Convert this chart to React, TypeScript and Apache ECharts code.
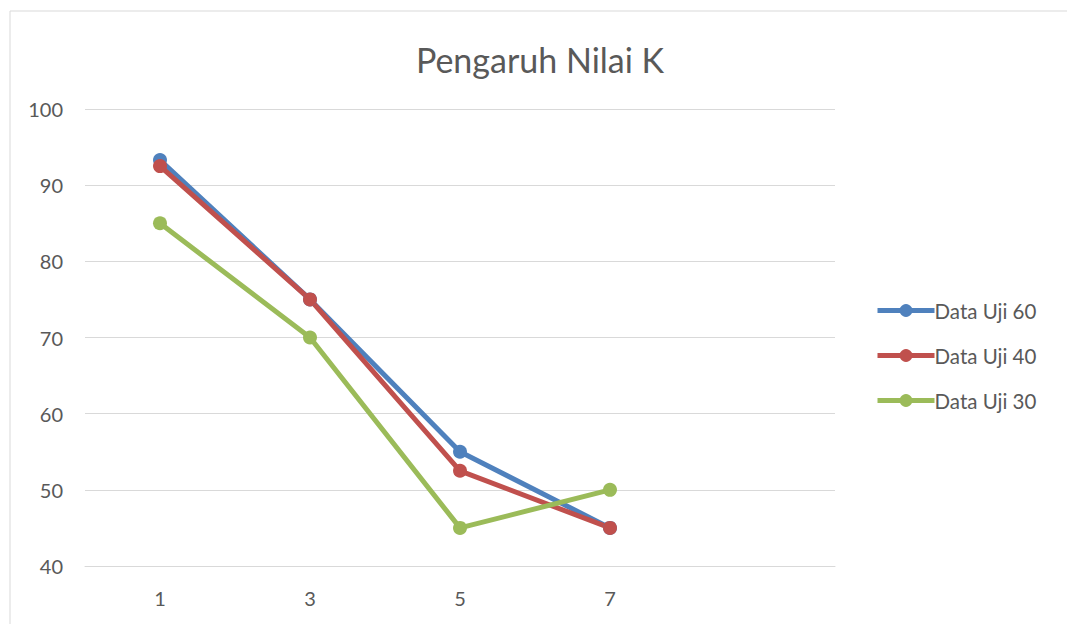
import React, { useEffect, useRef } from "react";
import * as echarts from "echarts";

const categories = ["1", "3", "5", "7", ""];
const seriesNames = ["Data Uji 60", "Data Uji 40", "Data Uji 30"];
const uji60 = [93.3, 75, 55, 45];
const uji40 = [92.5, 75, 52.5, 45];
const uji30 = [85, 70, 45, 50];
const colors = ["#4F81BD", "#C0504D", "#9BBB59"];

export default function App() {
  const ref = useRef<HTMLDivElement>(null);
  useEffect(() => {
    document.body.style.margin = "0";
    const chart = echarts.init(ref.current!, null, { renderer: "svg" });
    const font = "Lato, 'Open Sans', sans-serif";
    const mk = (name: string, data: number[], color: string) => ({
      name,
      type: "line",
      data,
      symbol: "circle",
      symbolSize: 14,
      lineStyle: { width: 5, color },
      itemStyle: { color },
    });
    chart.setOption({
      animation: false,
      backgroundColor: "#ffffff",
      title: {
        text: "Pengaruh Nilai K",
        left: 535,
        textAlign: "center",
        top: 37,
        textStyle: { fontFamily: font, fontSize: 34, fontWeight: "normal", color: "#595959" },
      },
      grid: { left: 85, right: 232, top: 109, bottom: 58 },
      legend: {
        orient: "vertical",
        left: 870,
        top: 295,
        itemWidth: 57,
        itemHeight: 16,
        itemGap: 24,
        lineStyle: { width: 5 },
        textStyle: { fontFamily: font, fontSize: 20.5, color: "#595959", padding: [0, 0, 0, -5] },
        data: seriesNames,
      },
      xAxis: {
        type: "category",
        data: categories,
        boundaryGap: true,
        axisLine: { show: true, lineStyle: { color: "#d9d9d9", width: 1 } },
        axisTick: { show: false },
        axisLabel: { fontFamily: font, fontSize: 20, color: "#595959", margin: 22 },
      },
      yAxis: {
        type: "value",
        min: 40,
        max: 100,
        interval: 10,
        axisLine: { show: false },
        axisTick: { show: false },
        axisLabel: { fontFamily: font, fontSize: 20, color: "#595959", margin: 22 },
        splitLine: { lineStyle: { color: "#d9d9d9", width: 1 } },
      },
      graphic: [
        { type: "line", shape: { x1: 10, y1: 11, x2: 1067, y2: 11 }, style: { stroke: "#d9d9d9", lineWidth: 1 } },
        { type: "line", shape: { x1: 10, y1: 11, x2: 10, y2: 624 }, style: { stroke: "#d9d9d9", lineWidth: 1 } },
      ],
      series: [
        mk(seriesNames[0], uji60, colors[0]),
        mk(seriesNames[1], uji40, colors[1]),
        mk(seriesNames[2], uji30, colors[2]),
      ],
    });
    return () => chart.dispose();
  }, []);
  return <div ref={ref} style={{ position: "fixed", left: 0, top: 0, width: 1067, height: 624 }} />;
}
